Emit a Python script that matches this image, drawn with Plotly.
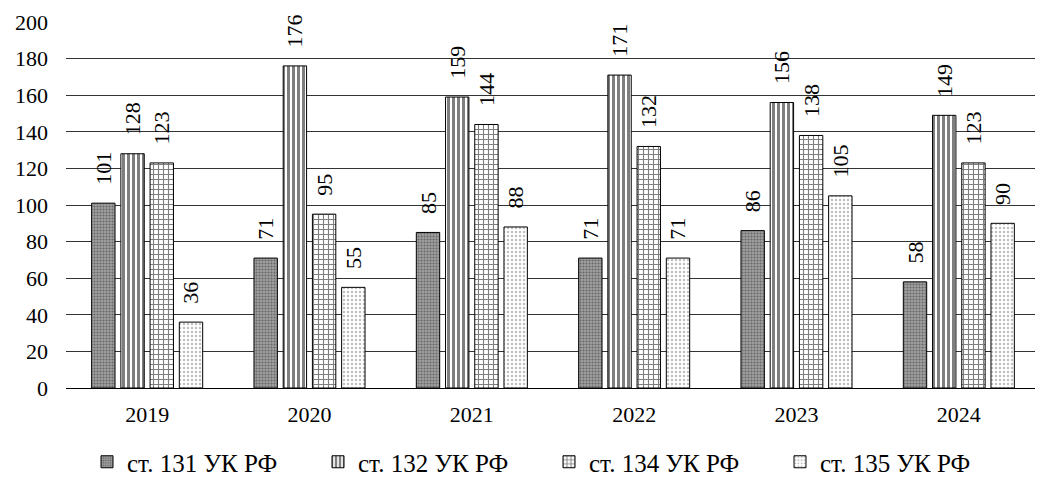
import plotly.graph_objects as go

years = ["2019", "2020", "2021", "2022", "2023", "2024"]
series_names = ["ст. 131 УК РФ", "ст. 132 УК РФ", "ст. 134 УК РФ", "ст. 135 УК РФ"]
s131 = [101, 71, 85, 71, 86, 58]
s132 = [128, 176, 159, 171, 156, 149]
s134 = [123, 95, 144, 132, 138, 123]
s135 = [36, 55, 88, 71, 105, 90]
y_ticks = [0, 20, 40, 60, 80, 100, 120, 140, 160, 180, 200]

FONT = "Liberation Serif, Times New Roman, serif"
LABEL_PAD = "\u00a0\u00a0\u2009"

# page body has an 8px default margin, so the figure is sized to fit the window
W, H = 1035, 469

patterns = [
    dict(shape=".", bgcolor="#a0a0a0", fgcolor="#303030", size=3, solidity=0.4),
    dict(shape="|", bgcolor="white", fgcolor="black", size=5, solidity=0.6),
    dict(shape="+", bgcolor="white", fgcolor="black", size=5, solidity=0.4),
    dict(shape=".", bgcolor="white", fgcolor="#808080", size=4, solidity=0.3),
]

fig = go.Figure()
for name, vals, pat in zip(series_names, [s131, s132, s134, s135], patterns):
    fig.add_trace(go.Bar(
        x=years, y=vals, name=name,
        marker=dict(color="white", line=dict(color="black", width=1), pattern=pat),
        text=[LABEL_PAD + str(v) for v in vals], textposition="outside", textangle=-90,
        constraintext="none",
        textfont=dict(family=FONT, size=22, color="black"),
        cliponaxis=False,
    ))

fig.update_layout(
    width=W, height=H,
    margin=dict(l=58, r=3, t=14, b=89, autoexpand=False),
    paper_bgcolor="white", plot_bgcolor="white",
    barmode="group", bargap=0.28, bargroupgap=0.2,
    font=dict(family=FONT, size=22, color="black"),
    showlegend=True,
    legend=dict(orientation="h", xref="container", yref="container",
                x=79 / W, xanchor="left", y=1 - 454 / H, yanchor="middle",
                font=dict(family=FONT, size=25, color="black"),
                itemwidth=30, entrywidth=186, entrywidthmode="pixels",
                tracegroupgap=0, borderwidth=0, bgcolor="rgba(0,0,0,0)"),
)
fig.update_xaxes(showline=True, linecolor="black", linewidth=1, ticks="", automargin=False,
                 tickfont=dict(family=FONT, size=22, color="black"),
                 ticklabelstandoff=7)
fig.update_yaxes(range=[0, 200], tickvals=y_ticks, showgrid=True, gridcolor="#333333",
                 gridwidth=1, zeroline=True, zerolinecolor="black", zerolinewidth=1,
                 ticks="", automargin=False,
                 tickfont=dict(family=FONT, size=22, color="black"),
                 ticklabelstandoff=17)

fig.write_html("out.html")
